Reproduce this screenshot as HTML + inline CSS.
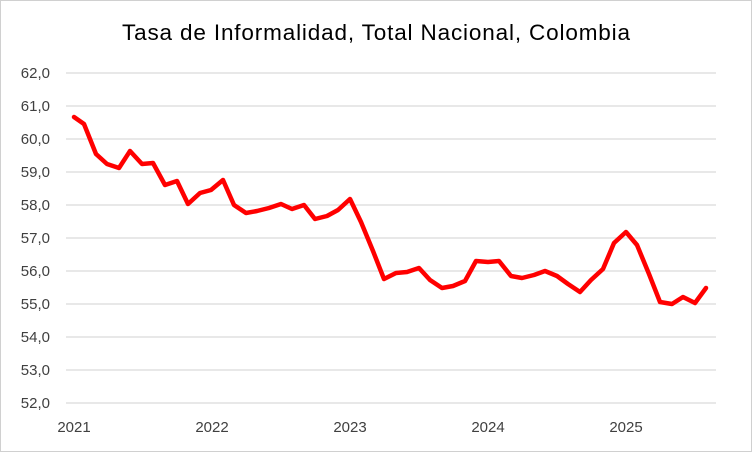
<!DOCTYPE html>
<html><head><meta charset="utf-8"><style>
body{margin:0;background:#fff}
svg{display:block;font-family:"Liberation Sans",Arial,sans-serif}
</style></head><body>
<svg width="752" height="452" viewBox="0 0 752 452">
<rect x="0.5" y="0.5" width="751" height="451" fill="#fff" stroke="#d0d0d0"/>
<text x="122" y="40" font-size="22.5" textLength="508" lengthAdjust="spacing" fill="#000">Tasa de Informalidad, Total Nacional, Colombia</text>
<g stroke="#d9d9d9" stroke-width="1.3">
<line x1="66" x2="716" y1="73" y2="73"/><line x1="66" x2="716" y1="106" y2="106"/>
<line x1="66" x2="716" y1="139" y2="139"/><line x1="66" x2="716" y1="172" y2="172"/>
<line x1="66" x2="716" y1="205" y2="205"/><line x1="66" x2="716" y1="238" y2="238"/>
<line x1="66" x2="716" y1="271" y2="271"/><line x1="66" x2="716" y1="304" y2="304"/>
<line x1="66" x2="716" y1="337" y2="337"/><line x1="66" x2="716" y1="370" y2="370"/>
<line x1="66" x2="716" y1="403" y2="403"/>
</g>
<g font-size="15" fill="#404040" text-anchor="end">
<text x="50" y="78">62,0</text><text x="50" y="111">61,0</text><text x="50" y="144">60,0</text>
<text x="50" y="177">59,0</text><text x="50" y="210">58,0</text><text x="50" y="243">57,0</text>
<text x="50" y="276">56,0</text><text x="50" y="309">55,0</text><text x="50" y="342">54,0</text>
<text x="50" y="375">53,0</text><text x="50" y="408">52,0</text>
</g>
<g font-size="15" fill="#404040" text-anchor="middle">
<text x="74" y="432">2021</text><text x="212" y="432">2022</text><text x="350" y="432">2023</text>
<text x="488" y="432">2024</text><text x="626" y="432">2025</text>
</g>
<polyline fill="none" stroke="#ff0000" stroke-width="4.5" stroke-linejoin="round" stroke-linecap="round" points="74,117 84,124 96,154 107,164 119,168 130,151 142,164 153,163 165,185 177,181 188,204 200,193 211,190 223,180 234,205 246,213 257,211 269,208 281,204 292,209 304,205 315,219 327,216 338,210 350,199 361,222 373,251 384,279 396,273 407,272 419,268 430,280 442,288 453,286 465,281 476,261 488,262 499,261 511,276 522,278 534,275 545,271 557,276 568,284 580,292 591,280 603,269 614,243 626,232 637,245 649,274 660,302 672,304 683,297 695,303 706,288"/>
</svg>
</body></html>
